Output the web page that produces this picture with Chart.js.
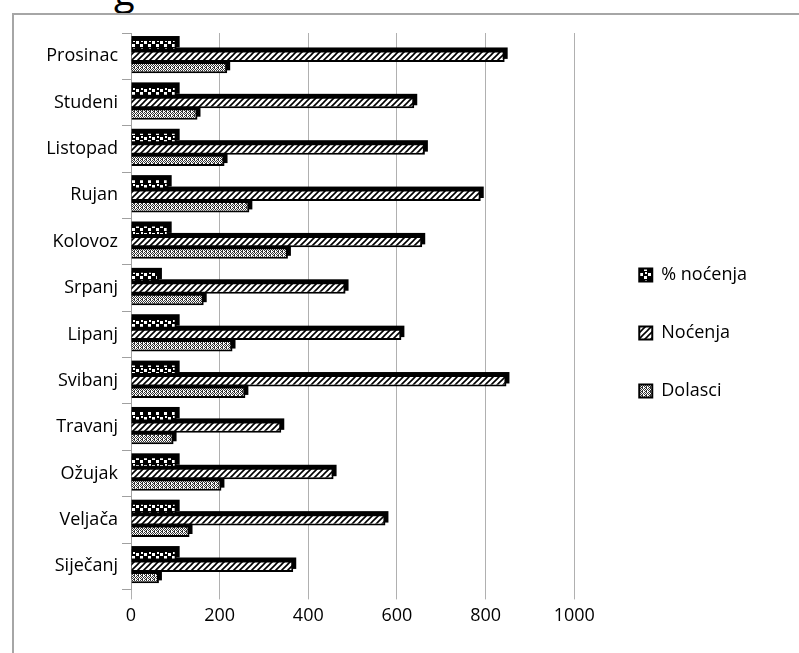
<!doctype html>
<html>
<head>
<meta charset="utf-8">
<style>
  * { margin: 0; padding: 0; }
  body { width: 799px; height: 653px; background: #fff; overflow: hidden; position: relative; font-family: "Open Sans", sans-serif; }
  .frame { position: absolute; left: 12px; top: 13px; width: 800px; height: 700px; border-top: 2px solid #a6a6a6; border-left: 2px solid #a6a6a6; }
  .cut { position: absolute; left: 114px; top: -36px; font-size: 38px; color: #000; font-family: "Open Sans", sans-serif; }
  canvas { position: absolute; left: 0; top: 0; }
</style>
</head>
<body>
<div class="cut">g</div>
<div class="frame"></div>
<canvas id="c" width="799" height="653"></canvas>
<script src="https://cdn.jsdelivr.net/npm/chart.js"></script>
<script>
const months = ['Prosinac', 'Studeni', 'Listopad', 'Rujan', 'Kolovoz', 'Srpanj', 'Lipanj', 'Svibanj', 'Travanj', 'Ožujak', 'Veljača', 'Siječanj'];
const postoNocenja = [103, 103, 103, 85, 85, 63, 103, 103, 103, 103, 103, 103];
const nocenja = [843, 639, 663, 789, 657, 484, 610, 847, 339, 457, 574, 366];
const dolasci = [217, 150, 211, 267, 354, 164, 229, 258, 96, 204, 132, 63];
const xTicks = [0, 200, 400, 600, 800, 1000];

function makePattern(kind) {
  const p = document.createElement('canvas');
  const ctx = p.getContext('2d');
  if (kind === 'dots') {
    p.width = 8; p.height = 8;
    ctx.fillStyle = '#000'; ctx.fillRect(0, 0, 8, 8);
    ctx.fillStyle = '#fff';
    ctx.fillRect(0, 1, 3, 3); ctx.fillRect(4, 4, 3, 3); ctx.fillRect(5, 0, 2, 2);
  } else if (kind === 'hatch') {
    p.width = 6; p.height = 6;
    ctx.fillStyle = '#fff'; ctx.fillRect(0, 0, 6, 6);
    ctx.strokeStyle = '#000'; ctx.lineWidth = 1.6;
    ctx.beginPath();
    ctx.moveTo(-1, 7); ctx.lineTo(7, -1);
    ctx.moveTo(5, 7); ctx.lineTo(7, 5);
    ctx.moveTo(-1, 1); ctx.lineTo(1, -1);
    ctx.stroke();
  } else {
    p.width = 4; p.height = 4;
    ctx.fillStyle = '#fff'; ctx.fillRect(0, 0, 4, 4);
    ctx.fillStyle = '#333';
    ctx.fillRect(0, 0, 1, 1); ctx.fillRect(2, 0, 1, 1);
    ctx.fillRect(1, 1, 1, 1); ctx.fillRect(3, 1, 1, 1);
    ctx.fillRect(0, 2, 1, 1); ctx.fillRect(2, 2, 1, 1);
    ctx.fillRect(1, 3, 2, 1);
  }
  return ctx.createPattern(p, 'repeat');
}

// rough 3D depth: dark block offset behind each bar
const depth = {
  id: 'depth',
  beforeDatasetsDraw(chart) {
    const ctx = chart.ctx;
    ctx.save();
    ctx.fillStyle = '#000';
    chart.data.datasets.forEach((ds, i) => {
      chart.getDatasetMeta(i).data.forEach(bar => {
        const h = bar.height;
        ctx.fillRect(bar.base, bar.y - h / 2 - 3, bar.x - bar.base + 3, h);
      });
    });
    ctx.restore();
  }
};

Chart.defaults.font.family = '"Open Sans", sans-serif';
Chart.defaults.color = '#000';

const chart = new Chart(document.getElementById('c'), {
  type: 'bar',
  data: {
    labels: months,
    datasets: [
      { label: '% noćenja', data: postoNocenja, backgroundColor: makePattern('dots'), borderColor: '#000', borderWidth: 2 },
      { label: 'Noćenja', data: nocenja, backgroundColor: makePattern('hatch'), borderColor: '#000', borderWidth: 2 },
      { label: 'Dolasci', data: dolasci, backgroundColor: makePattern('check'), borderColor: '#000', borderWidth: 2 }
    ]
  },
  plugins: [depth],
  options: {
    indexAxis: 'y',
    responsive: false,
    animation: false,
    layout: { padding: { top: 33, right: 67, bottom: 20, left: 0 } },
    datasets: { bar: { categoryPercentage: 0.74, barPercentage: 1 } },
    plugins: {
      legend: {
        position: 'right',
        align: 'center',
        labels: { boxWidth: 13, boxHeight: 13, padding: 40, font: { size: 18 } }
      },
      tooltip: { enabled: false }
    },
    scales: {
      x: {
        min: 0, max: 1000,
        afterBuildTicks: s => { s.ticks = xTicks.map(v => ({ value: v })); },
        grid: { color: '#b0b0b0', tickLength: 10 },
        border: { display: false },
        ticks: { font: { size: 18 }, padding: 6, callback: v => String(v) }
      },
      y: {
        afterFit: s => { s.width = 131; },
        grid: { offset: true, drawOnChartArea: false, color: '#a0a0a0', tickLength: 9 },
        border: { color: '#a0a0a0' },
        ticks: { font: { size: 18 }, padding: 4 }
      }
    }
  }
});
// push the legend a bit further right, away from the plot
chart.legend.left += 25; chart.legend.right += 25;
chart.draw();
</script>
</body>
</html>
